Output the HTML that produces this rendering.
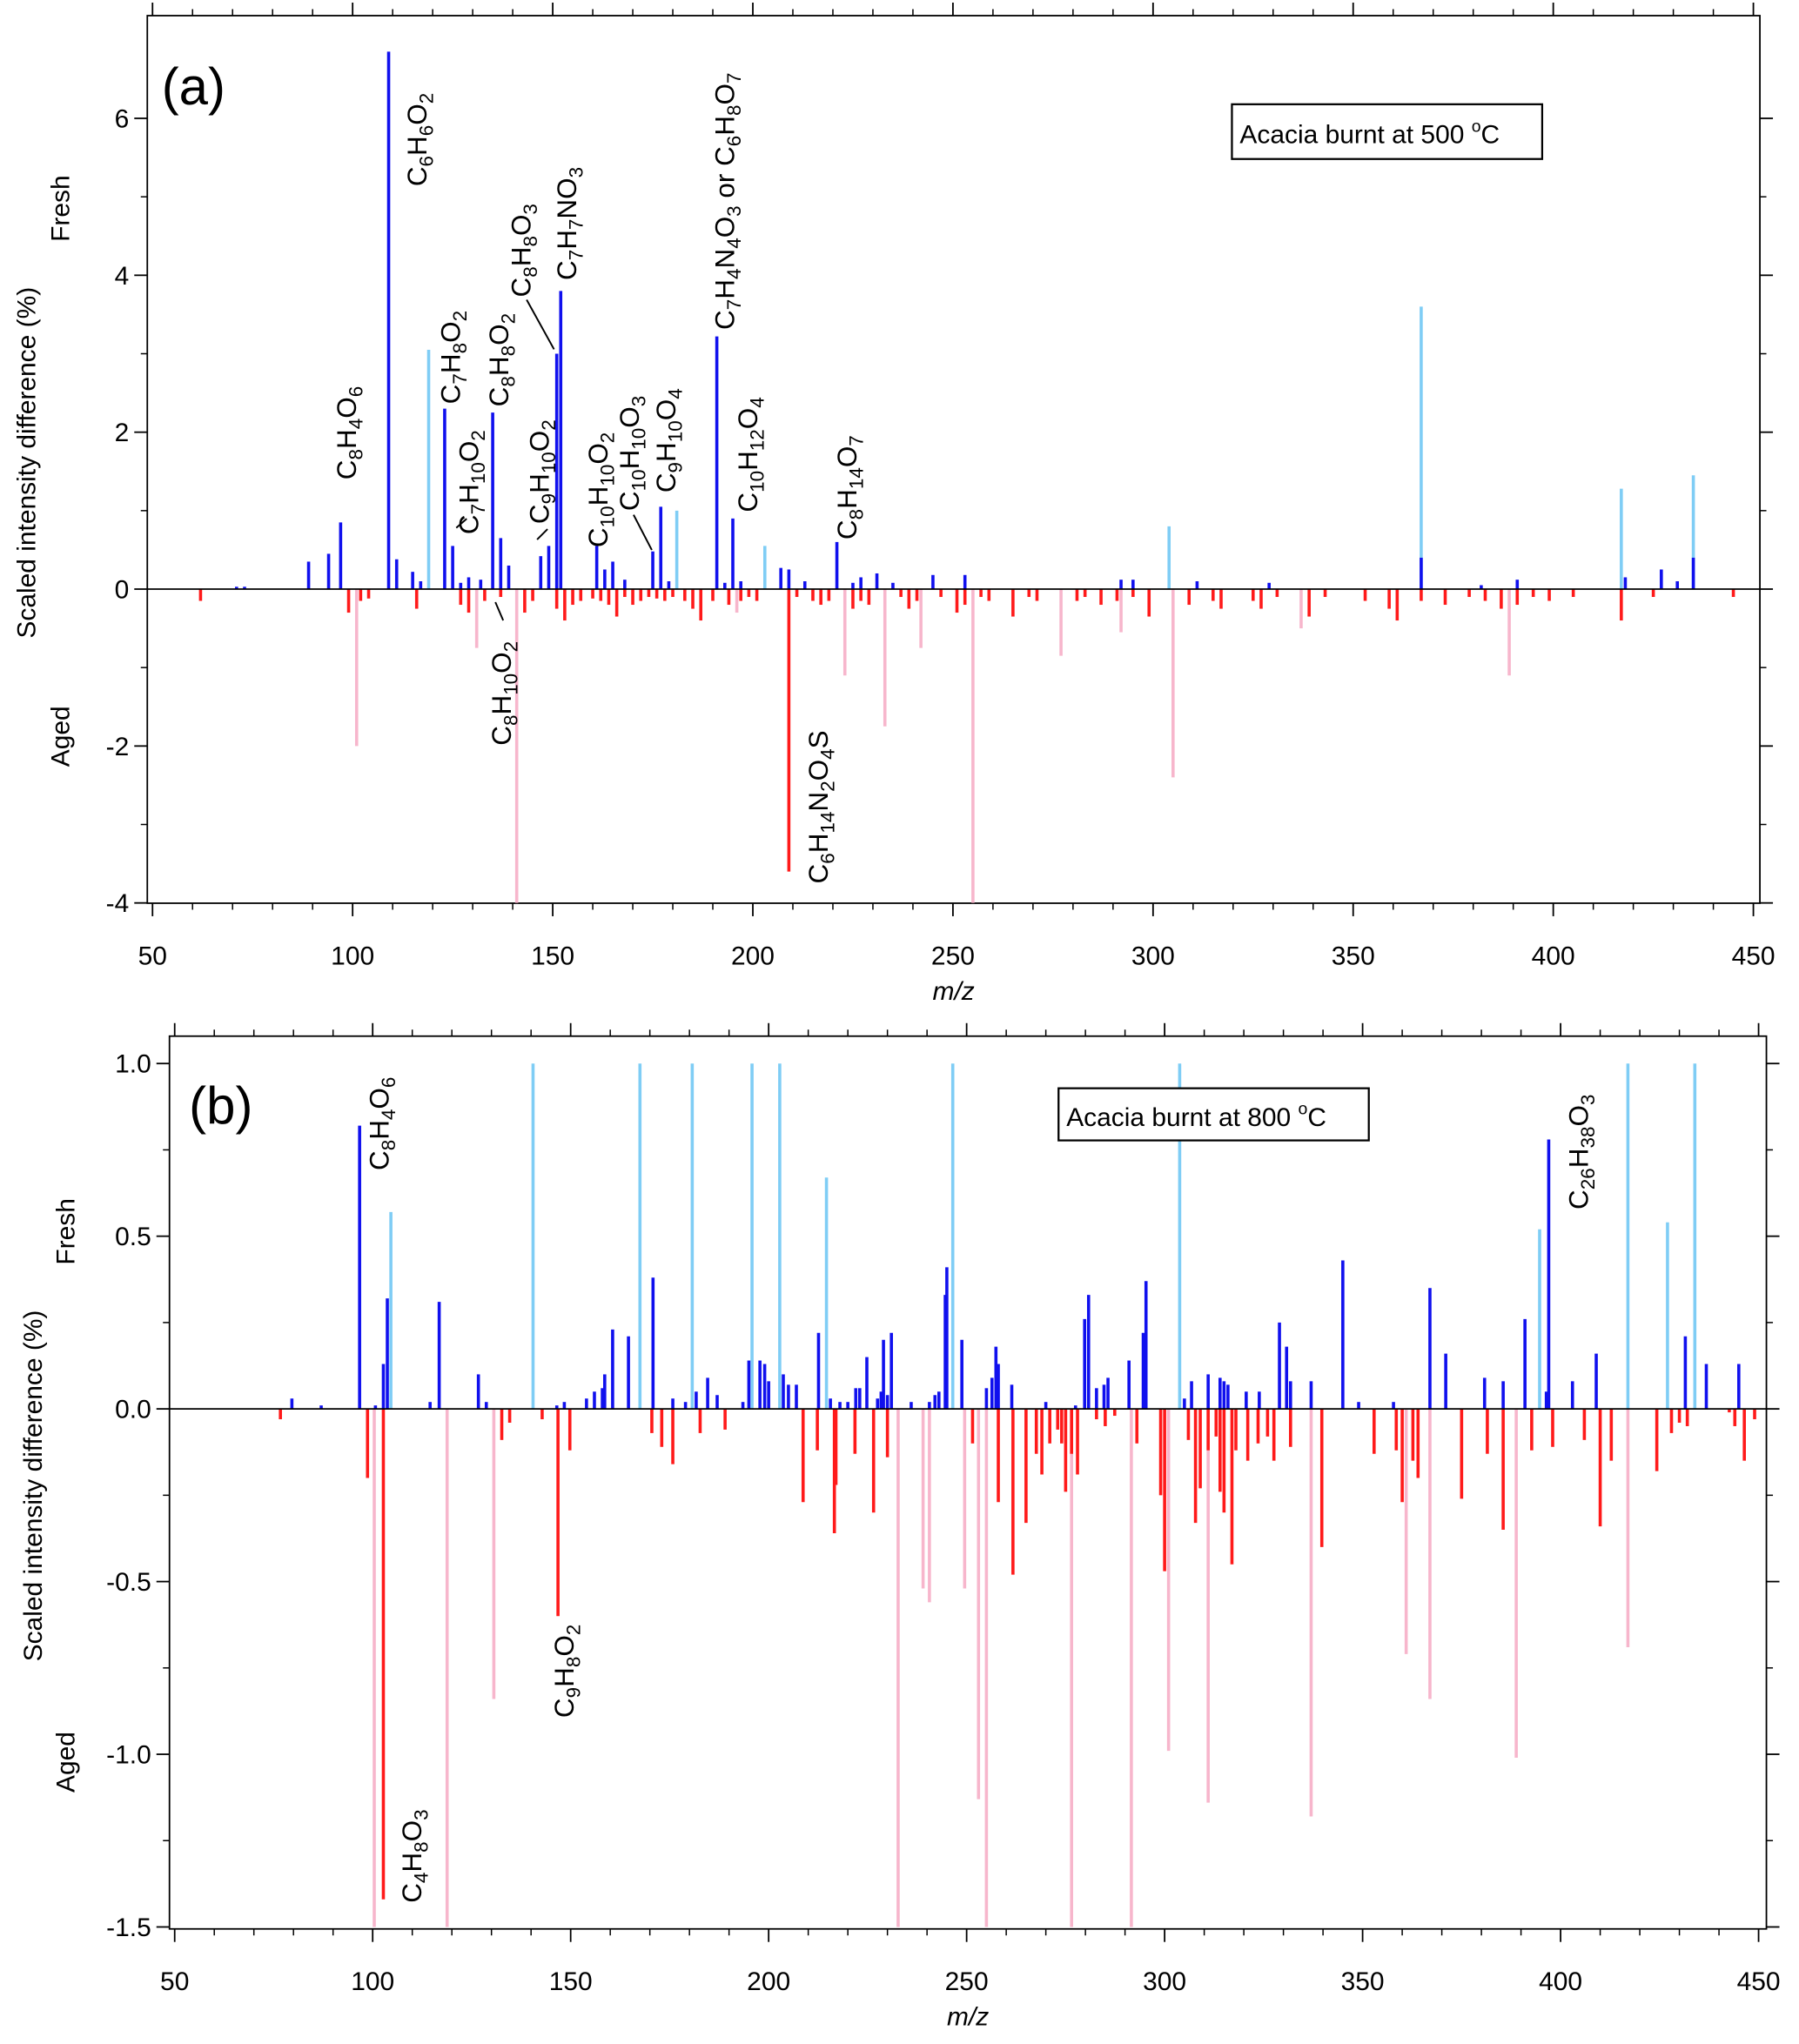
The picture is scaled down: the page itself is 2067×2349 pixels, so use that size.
<!DOCTYPE html>
<html><head><meta charset="utf-8"><style>
html,body{margin:0;padding:0;background:#fff}
svg{display:block}
text{font-family:"Liberation Sans",Arial,sans-serif;fill:#000}
</style></head><body>
<svg id="chart" width="2067" height="2349" viewBox="0 0 1380 1568.3" preserveAspectRatio="none" xmlns="http://www.w3.org/2000/svg">
<g id="layer"></g>
</svg>
<script>
// ---------- Panel (a) data ----------
const aBlueMz=[89,94,97,109,111,115,117,123,125,127,129,132,135,137,139,147,149,151,152,161,163,165,168,175,177,179,191,193,195,197,207,209,213,221,225,227,231,235,245,253,292,295,311,329,367,382,391,418,427,431,435,71,73];
const aBlueVal=[0.35,0.45,0.85,6.85,0.38,0.22,0.1,2.3,0.55,0.08,0.15,0.12,2.25,0.65,0.3,0.42,0.55,3.0,3.8,0.55,0.25,0.35,0.12,0.48,1.05,0.1,3.22,0.08,0.9,0.1,0.27,0.25,0.1,0.6,0.08,0.15,0.2,0.08,0.18,0.18,0.12,0.12,0.1,0.08,0.4,0.05,0.12,0.15,0.25,0.1,0.4,0.03,0.03];
const aLightMz=[119,181,203,304,367,417,435];
const aLightVal=[3.05,1.0,0.55,0.8,3.6,1.28,1.45];
const aPinkMz=[101,131,141,196,223,233,242,255,277,292,305,337,389];
const aPinkVal=[-2.0,-0.75,-4.0,-0.3,-1.1,-1.75,-0.75,-4.0,-0.85,-0.55,-2.4,-0.5,-1.1];
const aRedMz=[62,99,102,104,116,127,129,133,137,143,145,151,153,155,157,160,162,164,166,168,170,172,174,176,178,180,183,185,187,190,194,197,199,201,209,211,215,217,219,225,227,229,237,239,241,247,251,253,257,259,265,269,271,281,283,287,291,295,299,309,315,317,325,327,331,339,343,353,359,361,367,373,379,383,387,391,395,399,405,417,425,445];
const aRedVal=[-0.15,-0.3,-0.15,-0.12,-0.25,-0.2,-0.3,-0.15,-0.1,-0.3,-0.15,-0.25,-0.4,-0.2,-0.15,-0.12,-0.15,-0.2,-0.35,-0.1,-0.2,-0.15,-0.1,-0.12,-0.15,-0.1,-0.15,-0.25,-0.4,-0.15,-0.2,-0.15,-0.1,-0.15,-3.6,-0.1,-0.15,-0.2,-0.15,-0.25,-0.15,-0.2,-0.1,-0.25,-0.15,-0.1,-0.3,-0.2,-0.1,-0.15,-0.35,-0.1,-0.15,-0.15,-0.1,-0.2,-0.15,-0.1,-0.35,-0.2,-0.15,-0.25,-0.15,-0.25,-0.1,-0.35,-0.1,-0.15,-0.25,-0.4,-0.15,-0.2,-0.1,-0.15,-0.25,-0.2,-0.1,-0.15,-0.1,-0.4,-0.1,-0.1];
const aYTicks=[6,4,2,0,-2,-4];
const xTicks=[50,100,150,200,250,300,350,400,450];

// ---------- Panel (b) data ----------
const bBlueMz=[79.6,87,96.7,100.7,102.7,103.7,114.5,116.8,126.7,128.7,146.5,148.4,154,156,158,158.6,160.6,164.6,170.8,175.8,179,181.7,184.6,187,193.5,195,197.8,199,200,203.7,205,207,212.6,215.6,218,220,222,223,224.8,227.5,228.4,229,230,231,236,240.6,242,243,244.6,245,248.8,255,256.4,257.4,258,261.4,270,277.5,279.8,280.8,282.8,284.7,285.7,291,294.6,295.3,305,306.8,311,314,315,316,320.6,323.9,329,330.8,331.8,337,345,349,357.8,367,371,380.8,385.5,391,396.4,397,403,409,431.5,436.8,445];
const bBlueVal=[0.03,0.01,0.82,0.01,0.13,0.32,0.02,0.31,0.1,0.02,0.01,0.02,0.03,0.05,0.06,0.1,0.23,0.21,0.38,0.03,0.02,0.05,0.09,0.04,0.02,0.14,0.14,0.13,0.08,0.1,0.07,0.07,0.22,0.03,0.02,0.02,0.06,0.06,0.15,0.03,0.05,0.2,0.04,0.22,0.02,0.02,0.04,0.05,0.33,0.41,0.2,0.06,0.09,0.18,0.13,0.07,0.02,0.01,0.26,0.33,0.06,0.07,0.09,0.14,0.22,0.37,0.03,0.08,0.1,0.09,0.08,0.07,0.05,0.05,0.25,0.18,0.08,0.08,0.43,0.02,0.02,0.35,0.16,0.09,0.08,0.26,0.05,0.78,0.08,0.16,0.21,0.13,0.13];
const bLightMz=[104.6,140.5,167.5,180.7,195.8,202.8,214.6,246.5,303.8,394.7,417,427,433.9];
const bLightVal=[0.57,1.0,1.0,1.0,1.0,1.0,0.67,1.0,1.0,0.52,1.0,0.54,1.0];
const bPinkMz=[100.4,118.8,130.6,232.7,239,240.6,249.5,253,255,276.5,291.6,301,311,337,361,367,388.8,417];
const bPinkVal=[-1.5,-1.5,-0.84,-1.5,-0.52,-0.56,-0.52,-1.13,-1.5,-1.5,-1.5,-0.99,-1.14,-1.18,-0.71,-0.84,-1.01,-0.69];
const bRedMz=[76.7,98.7,102.7,132.6,134.6,142.8,146.8,149.8,170.5,173,175.8,182.7,189,208.7,212.3,216.6,217,221.8,226.5,230,251.5,258,261.7,265,267.6,269,271,273,274,275,276.5,278,282.8,285,287.4,293,299,300,306,307.8,309,311,313,314,315,317,318,321,323.6,326,327.6,331.8,339.7,352.9,358.5,360,362.7,364,375,381.5,385.5,392.7,398,406,410,412.8,424.3,428,430,432,442.6,444,446.4,449];
const bRedVal=[-0.03,-0.2,-1.42,-0.09,-0.04,-0.03,-0.6,-0.12,-0.07,-0.11,-0.16,-0.07,-0.06,-0.27,-0.12,-0.36,-0.22,-0.13,-0.3,-0.14,-0.1,-0.27,-0.48,-0.33,-0.13,-0.19,-0.1,-0.06,-0.1,-0.24,-0.13,-0.19,-0.03,-0.05,-0.02,-0.1,-0.25,-0.47,-0.09,-0.33,-0.23,-0.12,-0.08,-0.24,-0.3,-0.45,-0.12,-0.15,-0.1,-0.08,-0.15,-0.11,-0.4,-0.13,-0.12,-0.27,-0.15,-0.2,-0.26,-0.13,-0.35,-0.12,-0.11,-0.09,-0.34,-0.15,-0.18,-0.07,-0.04,-0.05,-0.01,-0.05,-0.15,-0.03];
const bYTicks=[1.0,0.5,0.0,-0.5,-1.0,-1.5];

const NS="http://www.w3.org/2000/svg";
const layer=document.getElementById('layer');
function mk(tag,attrs,parent){const e=document.createElementNS(NS,tag);for(const k in attrs)e.setAttribute(k,attrs[k]);(parent||layer).appendChild(e);return e;}

function panel(P){
  const g=mk('g',{});
  
  
  const X=v=>P.x0+(v-50)*(P.x1-P.x0)/400;
  const Y=v=>P.y0-v*P.yk;
  const clipY=v=>Math.max(Math.min(v,P.ymax),P.ymin);
  const fr=mk('rect',{x:P.L,y:P.T,width:P.R-P.L,height:P.B-P.T,fill:'none',stroke:'#000','stroke-width':1.2},g);
  
  
  function series(mz,val,color,nm){
    const sg=mk('g',{},g);
    
    
    for(let i=0;i<mz.length;i++){
      const x=X(mz[i]);const v=clipY(val[i]);
      const ln=mk('line',{x1:x,x2:x,y1:Y(0),y2:Y(v),stroke:color,'stroke-width':2.4},sg);
      
      
    }
  }
  series(P.light[0],P.light[1],'#7fcdf5','lightblue-series');
  series(P.pink[0],P.pink[1],'#f7b6cc','pink-series');
  series(P.red[0],P.red[1],'#ff1a1a','red-series');
  series(P.blue[0],P.blue[1],'#1010ee','blue-series');
  mk('line',{x1:P.L,x2:P.R,y1:Y(0),y2:Y(0),stroke:'#000','stroke-width':1.2},g);
  for(let i=0;i<xTicks.length;i++){
    const x=X(xTicks[i]);
    mk('line',{x1:x,x2:x,y1:P.B,y2:P.B+10,stroke:'#000','stroke-width':1.2},g);
    mk('line',{x1:x,x2:x,y1:P.T,y2:P.T-10,stroke:'#000','stroke-width':1.2},g);
    if(i<xTicks.length-1){for(let j=1;j<5;j++){const xm=X(xTicks[i]+j*10);
      mk('line',{x1:xm,x2:xm,y1:P.B,y2:P.B+5,stroke:'#000','stroke-width':1},g);
      mk('line',{x1:xm,x2:xm,y1:P.T,y2:P.T-5,stroke:'#000','stroke-width':1},g);}}
    const t=mk('text',{x:x,y:P.B+47,'font-size':20,'text-anchor':'middle'},g);
    t.textContent=xTicks[i];
    
    
  }
  for(let i=0;i<P.yt.length;i++){
    const y=Y(P.yt[i]);
    mk('line',{x1:P.L,x2:P.L-10,y1:y,y2:y,stroke:'#000','stroke-width':1.2},g);
    mk('line',{x1:P.R,x2:P.R+10,y1:y,y2:y,stroke:'#000','stroke-width':1.2},g);
    if(i<P.yt.length-1){const ym=Y((P.yt[i]+P.yt[i+1])/2);
      mk('line',{x1:P.L,x2:P.L-5,y1:ym,y2:ym,stroke:'#000','stroke-width':1},g);
      mk('line',{x1:P.R,x2:P.R+5,y1:ym,y2:ym,stroke:'#000','stroke-width':1},g);}
    const t=mk('text',{x:P.L-14,y:y+7,'font-size':20,'text-anchor':'end'},g);
    t.textContent=P.fmt(P.yt[i]);
    
    
  }
  const xt=mk('text',{x:(P.L+P.R)/2,y:P.B+74,'font-size':20,'font-style':'italic','text-anchor':'middle'},g);
  xt.textContent='m/z';
  
  
}

panel({name:'panel-a',L:113,R:1350,T:12,B:693,x0:117,x1:1345,y0:452,yk:60.2,ymax:7.3,ymin:-4.0,yt:aYTicks,fmt:v=>String(v),
  blue:[aBlueMz,aBlueVal],light:[aLightMz,aLightVal],pink:[aPinkMz,aPinkVal],red:[aRedMz,aRedVal]});
panel({name:'panel-b',L:130,R:1355,T:795,B:1480,x0:134,x1:1349,y0:1081,yk:265,ymax:1.0,ymin:-1.5,yt:bYTicks,fmt:v=>v.toFixed(1),
  blue:[bBlueMz,bBlueVal],light:[bLightMz,bLightVal],pink:[bPinkMz,bPinkVal],red:[bRedMz,bRedVal]});
</script>
<svg style="position:absolute;left:0;top:0" width="2067" height="2349" viewBox="0 0 1380 1568.3" preserveAspectRatio="none" xmlns="http://www.w3.org/2000/svg">
<g font-family="Liberation Sans, Arial, sans-serif" font-size="21">
<text x="124" y="80" font-size="40">(a)</text>
<text x="145" y="862" font-size="40">(b)</text>
<rect x="945" y="80" width="238" height="42" fill="#fff" stroke="#000" stroke-width="1.5"/>
<text x="951" y="110" font-size="20">Acacia burnt at 500 <tspan dy="-9" font-size="13">o</tspan><tspan dy="9">C</tspan></text>
<rect x="812" y="835" width="238" height="40" fill="#fff" stroke="#000" stroke-width="1.5"/>
<text x="818" y="864" font-size="20">Acacia burnt at 800 <tspan dy="-9" font-size="13">o</tspan><tspan dy="9">C</tspan></text>
<text transform="translate(27,355) rotate(-90)" font-size="20" text-anchor="middle">Scaled intensity difference (%)</text>
<text transform="translate(53,160) rotate(-90)" font-size="20" text-anchor="middle">Fresh</text>
<text transform="translate(53,565) rotate(-90)" font-size="20" text-anchor="middle">Aged</text>
<text transform="translate(32,1140) rotate(-90)" font-size="20" text-anchor="middle">Scaled intensity difference (%)</text>
<text transform="translate(57,945) rotate(-90)" font-size="20" text-anchor="middle">Fresh</text>
<text transform="translate(57,1352) rotate(-90)" font-size="20" text-anchor="middle">Aged</text>
<g>
<text transform="translate(273,368) rotate(-90)">C<tspan dy="5" font-size="15">8</tspan><tspan dy="-5">H</tspan><tspan dy="5" font-size="15">4</tspan><tspan dy="-5">O</tspan><tspan dy="5" font-size="15">6</tspan></text>
<text transform="translate(327,143) rotate(-90)">C<tspan dy="5" font-size="15">6</tspan><tspan dy="-5">H</tspan><tspan dy="5" font-size="15">6</tspan><tspan dy="-5">O</tspan><tspan dy="5" font-size="15">2</tspan></text>
<text transform="translate(353,310) rotate(-90)">C<tspan dy="5" font-size="15">7</tspan><tspan dy="-5">H</tspan><tspan dy="5" font-size="15">8</tspan><tspan dy="-5">O</tspan><tspan dy="5" font-size="15">2</tspan></text>
<text transform="translate(367,410) rotate(-90)">C<tspan dy="5" font-size="15">7</tspan><tspan dy="-5">H</tspan><tspan dy="5" font-size="15">10</tspan><tspan dy="-5">O</tspan><tspan dy="5" font-size="15">2</tspan></text>
<text transform="translate(390,312) rotate(-90)">C<tspan dy="5" font-size="15">8</tspan><tspan dy="-5">H</tspan><tspan dy="5" font-size="15">8</tspan><tspan dy="-5">O</tspan><tspan dy="5" font-size="15">2</tspan></text>
<text transform="translate(407,228) rotate(-90)">C<tspan dy="5" font-size="15">8</tspan><tspan dy="-5">H</tspan><tspan dy="5" font-size="15">8</tspan><tspan dy="-5">O</tspan><tspan dy="5" font-size="15">3</tspan></text>
<text transform="translate(442,215) rotate(-90)">C<tspan dy="5" font-size="15">7</tspan><tspan dy="-5">H</tspan><tspan dy="5" font-size="15">7</tspan><tspan dy="-5">NO</tspan><tspan dy="5" font-size="15">3</tspan></text>
<text transform="translate(421,402) rotate(-90)">C<tspan dy="5" font-size="15">9</tspan><tspan dy="-5">H</tspan><tspan dy="5" font-size="15">10</tspan><tspan dy="-5">O</tspan><tspan dy="5" font-size="15">2</tspan></text>
<text transform="translate(466,420) rotate(-90)">C<tspan dy="5" font-size="15">10</tspan><tspan dy="-5">H</tspan><tspan dy="5" font-size="15">10</tspan><tspan dy="-5">O</tspan><tspan dy="5" font-size="15">2</tspan></text>
<text transform="translate(490,392) rotate(-90)">C<tspan dy="5" font-size="15">10</tspan><tspan dy="-5">H</tspan><tspan dy="5" font-size="15">10</tspan><tspan dy="-5">O</tspan><tspan dy="5" font-size="15">3</tspan></text>
<text transform="translate(518,378) rotate(-90)">C<tspan dy="5" font-size="15">9</tspan><tspan dy="-5">H</tspan><tspan dy="5" font-size="15">10</tspan><tspan dy="-5">O</tspan><tspan dy="5" font-size="15">4</tspan></text>
<text transform="translate(563,253) rotate(-90)">C<tspan dy="5" font-size="15">7</tspan><tspan dy="-5">H</tspan><tspan dy="5" font-size="15">4</tspan><tspan dy="-5">N</tspan><tspan dy="5" font-size="15">4</tspan><tspan dy="-5">O</tspan><tspan dy="5" font-size="15">3</tspan><tspan dy="-5"> or C</tspan><tspan dy="5" font-size="15">6</tspan><tspan dy="-5">H</tspan><tspan dy="5" font-size="15">8</tspan><tspan dy="-5">O</tspan><tspan dy="5" font-size="15">7</tspan></text>
<text transform="translate(581,393) rotate(-90)">C<tspan dy="5" font-size="15">10</tspan><tspan dy="-5">H</tspan><tspan dy="5" font-size="15">12</tspan><tspan dy="-5">O</tspan><tspan dy="5" font-size="15">4</tspan></text>
<text transform="translate(657,414) rotate(-90)">C<tspan dy="5" font-size="15">8</tspan><tspan dy="-5">H</tspan><tspan dy="5" font-size="15">14</tspan><tspan dy="-5">O</tspan><tspan dy="5" font-size="15">7</tspan></text>
<text transform="translate(392,572) rotate(-90)">C<tspan dy="5" font-size="15">8</tspan><tspan dy="-5">H</tspan><tspan dy="5" font-size="15">10</tspan><tspan dy="-5">O</tspan><tspan dy="5" font-size="15">2</tspan></text>
<text transform="translate(635,678) rotate(-90)">C<tspan dy="5" font-size="15">6</tspan><tspan dy="-5">H</tspan><tspan dy="5" font-size="15">14</tspan><tspan dy="-5">N</tspan><tspan dy="5" font-size="15">2</tspan><tspan dy="-5">O</tspan><tspan dy="5" font-size="15">4</tspan><tspan dy="-5">S</tspan></text>
<line x1="404" y1="230" x2="425" y2="268" stroke="#000" stroke-width="1.3"/>
<line x1="350" y1="405" x2="358" y2="398" stroke="#000" stroke-width="1.3"/>
<line x1="412" y1="414" x2="420" y2="406" stroke="#000" stroke-width="1.3"/>
<line x1="486" y1="395" x2="500" y2="422" stroke="#000" stroke-width="1.3"/>
<line x1="380" y1="462" x2="386" y2="476" stroke="#000" stroke-width="1.3"/>
</g>
<g>
<text transform="translate(298,898) rotate(-90)">C<tspan dy="5" font-size="15">8</tspan><tspan dy="-5">H</tspan><tspan dy="5" font-size="15">4</tspan><tspan dy="-5">O</tspan><tspan dy="5" font-size="15">6</tspan></text>
<text transform="translate(1218,928) rotate(-90)">C<tspan dy="5" font-size="15">26</tspan><tspan dy="-5">H</tspan><tspan dy="5" font-size="15">38</tspan><tspan dy="-5">O</tspan><tspan dy="5" font-size="15">3</tspan></text>
<text transform="translate(323,1460) rotate(-90)">C<tspan dy="5" font-size="15">4</tspan><tspan dy="-5">H</tspan><tspan dy="5" font-size="15">8</tspan><tspan dy="-5">O</tspan><tspan dy="5" font-size="15">3</tspan></text>
<text transform="translate(440,1318) rotate(-90)">C<tspan dy="5" font-size="15">9</tspan><tspan dy="-5">H</tspan><tspan dy="5" font-size="15">8</tspan><tspan dy="-5">O</tspan><tspan dy="5" font-size="15">2</tspan></text>
</g>
</g>
</svg>
</body></html>
